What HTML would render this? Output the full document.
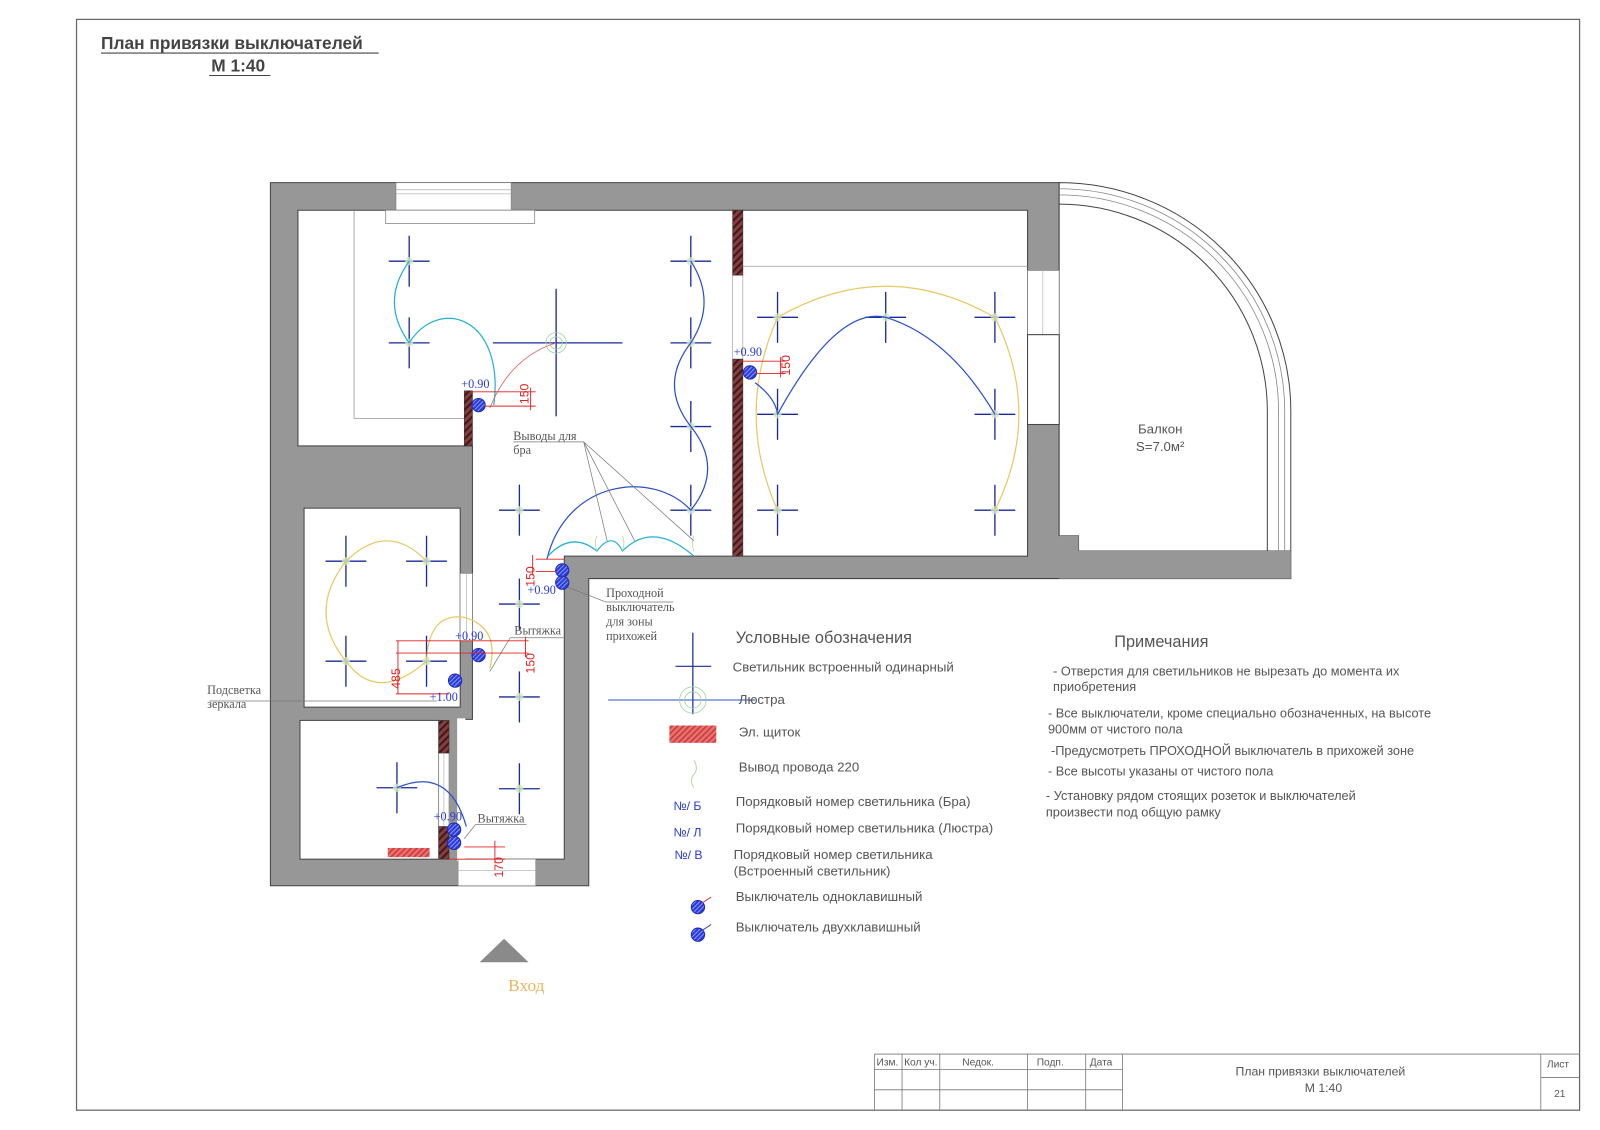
<!DOCTYPE html>
<html><head><meta charset="utf-8"><style>
html,body{margin:0;padding:0;background:#fff;}
svg{display:block}
.s{font-family:"Liberation Sans","Noto Sans CJK SC",sans-serif}
.r{font-family:"Liberation Serif","Noto Serif CJK SC",serif}
</style></head><body>
<svg width="1600" height="1130" viewBox="0 0 1600 1130" xmlns="http://www.w3.org/2000/svg">
<defs>
<pattern id="h" width="5" height="5" patternUnits="userSpaceOnUse" patternTransform="rotate(45)">
<rect width="5" height="5" fill="#8a3c3c"/><rect width="2" height="5" fill="#3a1a1a"/></pattern>
<pattern id="hr" width="4" height="4" patternUnits="userSpaceOnUse" patternTransform="rotate(45)">
<rect width="4" height="4" fill="#e87070"/><rect width="1.5" height="4" fill="#c83a3a"/></pattern>
<pattern id="hb" width="3" height="3" patternUnits="userSpaceOnUse" patternTransform="rotate(45)">
<rect width="3" height="3" fill="#2a3ad8"/><rect width="1" height="3" fill="#8a9aff"/></pattern>
<g id="x"><line x1="-20" y1="0" x2="20" y2="0" stroke="#1a2a9a" stroke-width="1.3"/><line x1="0" y1="-25" x2="0" y2="25" stroke="#1a2a9a" stroke-width="1.3"/><circle r="4" fill="#cfe8c8" opacity="0.8"/></g>
<g id="sw"><circle r="6.5" fill="url(#hb)" stroke="#1a2ab8" stroke-width="1"/></g>
</defs>
<g transform="scale(1.0204)">
<rect x="75" y="19" width="1473" height="1069" fill="none" stroke="#666" stroke-width="1.2"/>
<text x="99" y="48" class="s" font-size="17" font-weight="bold" style="fill:#444">План привязки выключателей</text>
<line x1="99" y1="52" x2="371" y2="52" stroke="#444"/>
<text x="207" y="70" class="s" font-size="17" font-weight="bold" style="fill:#444">М 1:40</text>
<line x1="205" y1="74" x2="265" y2="74" stroke="#444"/>

<polygon points="265,179 1038,179 1038,525 1057,525 1057,540 1265,540 1265,567 577,567 577,868 265,868" fill="#979797" stroke="#444" stroke-width="1"/>
<path d="M1038,179 A227,224 0 0 1 1265,403 L1265,540 L1057,540 L1057,525 L1038,525 Z" fill="#fff" stroke="#444"/>
<path d="M1038,185 A221,218 0 0 1 1259,403 L1259,540" fill="none" stroke="#888" stroke-width="0.8"/>
<path d="M1038,191 A215,212 0 0 1 1253,403 L1253,540" fill="none" stroke="#888" stroke-width="0.8"/>
<path d="M1038,200 A204,203 0 0 1 1242,403 L1242,540" fill="none" stroke="#444" stroke-width="1"/>
<polygon points="1038,525 1057,525 1057,540 1265,540 1265,567 1038,567" fill="#979797"/>
<text x="1137" y="425" class="s" font-size="13" text-anchor="middle" style="fill:#555">Балкон</text>
<text x="1137" y="442" class="s" font-size="13" text-anchor="middle" style="fill:#555">S=7.0м²</text>

<g fill="#fff" stroke="#444" stroke-width="1">
<polygon points="292,206 1007,206 1007,545 553,545 553,842 449,842 449,705 463,705 463,437 292,437"/>
<rect x="298" y="498" width="153" height="195"/>
<rect x="294" y="706" width="136" height="136"/>
</g>
<rect x="448" y="704" width="8" height="140" fill="#fff"/>
<rect x="430" y="706" width="10" height="136" fill="#fff" stroke="#888" stroke-width="0.6"/>
<line x1="435" y1="738" x2="435" y2="810" stroke="#aaa" stroke-width="0.6"/>
<rect x="451" y="562" width="12" height="66" fill="#fff" stroke="#888" stroke-width="0.6"/>
<line x1="457" y1="562" x2="457" y2="628" stroke="#aaa" stroke-width="0.6"/>
<rect x="388" y="179" width="113" height="27" fill="#fff" stroke="#888" stroke-width="0.8"/>
<line x1="388" y1="186" x2="501" y2="186" stroke="#999" stroke-width="0.6"/>
<line x1="388" y1="190" x2="501" y2="190" stroke="#999" stroke-width="0.6"/>
<rect x="378" y="206" width="146" height="13" fill="#fff" stroke="#888" stroke-width="0.8"/>
<path d="M347,206 L347,410 L455,410" fill="none" stroke="#999" stroke-width="0.8"/>
<rect x="1007" y="265" width="31" height="63" fill="#fff" stroke="#888" stroke-width="0.8"/>
<line x1="1022" y1="265" x2="1022" y2="328" stroke="#aaa" stroke-width="0.6"/>
<rect x="1007" y="328" width="31" height="88" fill="#fff" stroke="#444" stroke-width="1"/>
<line x1="728" y1="261" x2="1007" y2="261" stroke="#aaa" stroke-width="0.8"/>
<rect x="449" y="842" width="76" height="26" fill="#fff" stroke="#888" stroke-width="0.6"/>
<line x1="449" y1="853" x2="525" y2="853" stroke="#aaa" stroke-width="0.6"/>
<rect x="718" y="206" width="10" height="64" fill="url(#h)" stroke="#333" stroke-width="0.6"/>
<rect x="718" y="270" width="10" height="82" fill="#fff" stroke="#999" stroke-width="0.6"/>
<rect x="718" y="352" width="10" height="193" fill="url(#h)" stroke="#333" stroke-width="0.6"/>
<rect x="455" y="383" width="8" height="54" fill="url(#h)" stroke="#333" stroke-width="0.6"/>
<rect x="430" y="706" width="10" height="32" fill="url(#h)" stroke="#333" stroke-width="0.6"/>
<rect x="430" y="810" width="10" height="32" fill="url(#h)" stroke="#333" stroke-width="0.6"/>
<rect x="380" y="831" width="41" height="9" fill="url(#hr)"/>

<line x1="483" y1="336" x2="610" y2="336" stroke="#1a2a9a" stroke-width="1.3"/>
<line x1="545" y1="283" x2="545" y2="408" stroke="#1a2a9a" stroke-width="1.3"/>
<circle cx="545" cy="336" r="10" fill="none" stroke="#9ad49a" stroke-width="0.8"/>
<circle cx="545" cy="336" r="6" fill="none" stroke="#9ad49a" stroke-width="0.8"/>

<g>
<use href="#x" x="401" y="256"/><use href="#x" x="401" y="336"/>
<use href="#x" x="677" y="256"/><use href="#x" x="677" y="336"/><use href="#x" x="677" y="418"/><use href="#x" x="677" y="500"/>
<use href="#x" x="509" y="500"/><use href="#x" x="509" y="592"/><use href="#x" x="509" y="683"/><use href="#x" x="509" y="773"/>
<use href="#x" x="762" y="311"/><use href="#x" x="868" y="311"/><use href="#x" x="975" y="311"/>
<use href="#x" x="762" y="406"/><use href="#x" x="975" y="406"/>
<use href="#x" x="762" y="500"/><use href="#x" x="975" y="500"/>
<use href="#x" x="339" y="550"/><use href="#x" x="418" y="550"/><use href="#x" x="339" y="648"/><use href="#x" x="418" y="648"/>
<use href="#x" x="389" y="772"/>
</g>

<g fill="none" stroke-width="1.2">
<path d="M401,256 Q372,296 401,336" stroke="#22b0d8"/>
<path d="M401,336 C430,290 495,310 484,397" stroke="#22b0d8"/>
<path d="M480,400 Q500,350 545,336" stroke="#e06060" stroke-width="0.8"/>
<path d="M677,256 Q703,296 677,336 Q645,377 677,418 Q710,459 677,500" stroke="#2c4fc8"/>
<path d="M536,548 C555,470 640,460 677,500" stroke="#2c4fc8"/>
<path d="M537,545 Q560,520 585,540 Q600,520 610,540 Q640,510 680,545" stroke="#22b0d8"/>
<path d="M762,311 Q868,250 975,311" stroke="#e8c860"/>
<path d="M762,311 Q720,406 762,500" stroke="#e8c860"/>
<path d="M975,311 Q1022,406 975,500" stroke="#e8c860"/>
<path d="M762,406 Q820,300 868,311 Q930,330 975,406" stroke="#2c4fc8"/>
<path d="M740,375 Q760,390 762,406" stroke="#2c4fc8"/>
<path d="M339,550 Q380,510 418,550" stroke="#e8c860"/>
<path d="M339,550 Q300,600 339,648 Q370,690 418,648" stroke="#e8c860"/>
<path d="M418,648 Q420,600 455,605 Q490,615 480,655" stroke="#e8c860"/>
<path d="M389,772 Q440,750 457,810" stroke="#2c4fc8"/>
</g>
<g fill="none" stroke="#b8d8a0" stroke-width="0.8">
<path d="M585,540 q-3,-8 0,-15"/><path d="M610,540 q3,-8 0,-15"/><path d="M680,540 q-3,-8 0,-15"/>
</g>
<g stroke="#777" stroke-width="0.7" fill="none">
<line x1="503" y1="433" x2="572" y2="433"/>
<line x1="572" y1="433" x2="595" y2="530"/><line x1="572" y1="433" x2="622" y2="530"/><line x1="572" y1="433" x2="680" y2="530"/>
<line x1="555" y1="575" x2="594" y2="590"/><line x1="594" y1="590" x2="660" y2="590"/>
<line x1="205" y1="687" x2="428" y2="687"/>
<line x1="480" y1="658" x2="500" y2="625"/><line x1="500" y1="625" x2="552" y2="625"/>
<line x1="455" y1="822" x2="466" y2="808"/><line x1="466" y1="808" x2="516" y2="808"/>
</g>

<use href="#sw" x="469" y="397"/><use href="#sw" x="735" y="365"/>
<use href="#sw" x="551" y="559"/><use href="#sw" x="551" y="571"/>
<use href="#sw" x="469" y="642"/><use href="#sw" x="446" y="667"/>
<use href="#sw" x="445" y="813"/><use href="#sw" x="445" y="826"/>

<g stroke="#e02020" stroke-width="0.9">
<line x1="463" y1="384" x2="525" y2="384"/><line x1="475" y1="398" x2="525" y2="398"/><line x1="520" y1="380" x2="520" y2="402"/>
<line x1="728" y1="354" x2="770" y2="354"/><line x1="740" y1="366" x2="770" y2="366"/><line x1="765" y1="350" x2="765" y2="370"/>
<line x1="525" y1="548" x2="553" y2="548"/><line x1="525" y1="560" x2="545" y2="560"/><line x1="522" y1="544" x2="522" y2="564"/>
<line x1="388" y1="628" x2="518" y2="628"/><line x1="388" y1="640" x2="518" y2="640"/><line x1="515" y1="624" x2="515" y2="644"/>
<line x1="390" y1="628" x2="390" y2="680"/><line x1="388" y1="680" x2="440" y2="680"/>
<line x1="455" y1="830" x2="495" y2="830"/><line x1="440" y1="842" x2="495" y2="842"/><line x1="485" y1="824" x2="485" y2="846"/>
</g>
<g class="s" font-size="12" style="fill:#e02020">
<text transform="translate(518,396) rotate(-90)">150</text>
<text transform="translate(774,368) rotate(-90)">150</text>
<text transform="translate(524,575) rotate(-90)">150</text>
<text transform="translate(524,660) rotate(-90)">150</text>
<text transform="translate(392,675) rotate(-90)">485</text>
<text transform="translate(493,860) rotate(-90)">170</text>
</g>
<g class="r" font-size="12" style="fill:#2a3ad8">
<text x="452" y="380">+0.90</text>
<text x="719" y="349">+0.90</text>
<text x="517" y="582">+0.90</text>
<text x="446" y="627">+0.90</text>
<text x="421" y="687">+1.00</text>
<text x="425" y="804">+0.90</text>
</g>
<g class="r" font-size="12" style="fill:#555">
<text x="503" y="431">Выводы для</text><text x="503" y="445">бра</text>
<text x="594" y="585">Проходной</text><text x="594" y="599">выключатель</text><text x="594" y="613">для зоны</text><text x="594" y="627">прихожей</text>
<text x="504" y="622">Вытяжка</text>
<text x="468" y="806">Вытяжка</text>
<text x="203" y="680">Подсветка</text><text x="203" y="694">зеркала</text>
</g>
<polygon points="470,943 518,943 494,920" fill="#8a8a8a"/>
<text x="498" y="971" class="r" font-size="17" style="fill:#e8b860">Вход</text>

<text x="721" y="630" class="s" font-size="16" style="fill:#555">Условные обозначения</text>
<line x1="679" y1="620" x2="679" y2="700" stroke="#1a2a9a" stroke-width="1.2"/>
<line x1="662" y1="653" x2="697" y2="653" stroke="#1a2a9a" stroke-width="1.2"/>
<line x1="596" y1="686" x2="740" y2="686" stroke="#2c4fc8" stroke-width="1"/>
<circle cx="679" cy="686" r="13" fill="none" stroke="#9ad49a" stroke-width="0.8"/>
<circle cx="679" cy="686" r="8" fill="none" stroke="#9ad49a" stroke-width="0.8"/>
<rect x="656" y="711" width="46" height="17" fill="url(#hr)"/>
<path d="M680,745 q5,8 0,14 q-5,6 0,13" fill="none" stroke="#b8d8a0"/>
<g class="s" font-size="13" style="fill:#555">
<text x="718" y="658">Светильник встроенный одинарный</text>
<text x="724" y="690">Люстра</text>
<text x="724" y="722">Эл. щиток</text>
<text x="724" y="756">Вывод провода 220</text>
<text x="721" y="790">Порядковый номер светильника (Бра)</text>
<text x="721" y="816">Порядковый номер светильника (Люстра)</text>
<text x="719" y="842">Порядковый номер светильника</text>
<text x="719" y="858">(Встроенный светильник)</text>
<text x="721" y="883">Выключатель одноклавишный</text>
<text x="721" y="913">Выключатель двухклавишный</text>
</g>
<g class="s" font-size="12" style="fill:#2a3ad8">
<text x="660" y="794">№/ Б</text><text x="660" y="820">№/ Л</text><text x="661" y="842">№/ В</text>
</g>
<use href="#sw" x="684" y="889"/><line x1="688" y1="885" x2="697" y2="879" stroke="#e04040"/>
<use href="#sw" x="684" y="916"/><line x1="688" y1="912" x2="697" y2="906" stroke="#2c4fc8"/>

<text x="1092" y="634" class="s" font-size="16" style="fill:#555">Примечания</text>
<g class="s" font-size="12.5" style="fill:#555">
<text x="1032" y="662">- Отверстия для светильников не вырезать до   момента их</text>
<text x="1032" y="677">приобретения</text>
<text x="1027" y="703">- Все выключатели, кроме специально обозначенных, на высоте</text>
<text x="1027" y="719">900мм от чистого пола</text>
<text x="1030" y="740">-Предусмотреть  ПРОХОДНОЙ выключатель в прихожей зоне</text>
<text x="1027" y="760">- Все высоты указаны от чистого пола</text>
<text x="1025" y="784">- Установку рядом стоящих розеток и выключателей</text>
<text x="1025" y="800">произвести под общую рамку</text>
</g>

<g stroke="#777" stroke-width="0.8" fill="none">
<line x1="857" y1="1033" x2="1548" y2="1033"/>
<line x1="857" y1="1033" x2="857" y2="1088"/>
<line x1="857" y1="1048" x2="1100" y2="1048"/>
<line x1="857" y1="1068" x2="1100" y2="1068"/>
<line x1="884" y1="1033" x2="884" y2="1088"/>
<line x1="921" y1="1033" x2="921" y2="1088"/>
<line x1="1007" y1="1033" x2="1007" y2="1088"/>
<line x1="1064" y1="1033" x2="1064" y2="1088"/>
<line x1="1100" y1="1033" x2="1100" y2="1088"/>
<line x1="1510" y1="1033" x2="1510" y2="1088"/>
<line x1="1510" y1="1056" x2="1548" y2="1056"/>
</g>
<g class="s" font-size="10" style="fill:#555">
<text x="859" y="1044">Изм.</text><text x="886" y="1044">Кол уч.</text><text x="943" y="1044">Nедок.</text>
<text x="1016" y="1044">Подп.</text><text x="1068" y="1044">Дата</text>
<text x="1516" y="1046">Лист</text><text x="1523" y="1075">21</text>
</g>
<text x="1294" y="1054" class="s" font-size="12" text-anchor="middle" style="fill:#555">План привязки выключателей</text>
<text x="1297" y="1070" class="s" font-size="12" text-anchor="middle" style="fill:#555">М 1:40</text>
</g>
</svg>
</body></html>
